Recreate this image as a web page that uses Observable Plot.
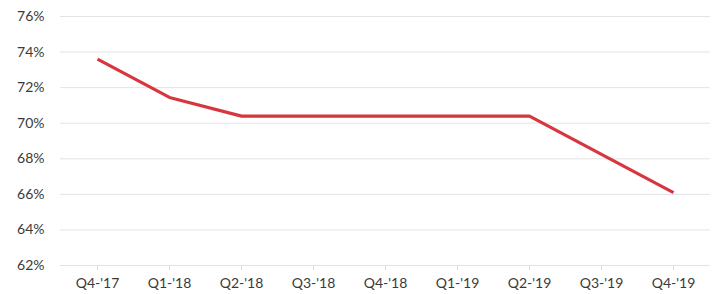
<!DOCTYPE html>
<html>
<head>
<meta charset="utf-8">
<script src="https://cdn.jsdelivr.net/npm/d3@7"></script>
<script src="https://cdn.jsdelivr.net/npm/@observablehq/plot@0.6"></script>
<style>
  html, body { margin: 0; padding: 0; background: #fff; }
  #chart svg { display: block; }
</style>
</head>
<body>
<div id="chart"></div>
<script>
const quarters = ["Q4-'17", "Q1-'18", "Q2-'18", "Q3-'18", "Q4-'18", "Q1-'19", "Q2-'19", "Q3-'19", "Q4-'19"];
const values = [73.6, 71.45, 70.4, 70.4, 70.4, 70.4, 70.4, 68.25, 66.1];
const yTicks = [62, 64, 66, 68, 70, 72, 74, 76];

const data = quarters.map((q, i) => ({q, v: values[i]}));

const chart = Plot.plot({
  width: 715,
  height: 294,
  marginLeft: 60,
  marginRight: 5,
  marginTop: 16,
  marginBottom: 29,
  style: {fontFamily: "Lato, 'Open Sans', sans-serif", fontSize: "14px", color: "#3a3a3a", background: "#fff"},
  x: {type: "point", domain: quarters, padding: 0.5, label: null},
  y: {domain: [62, 76], ticks: yTicks, label: null},
  marks: [
    Plot.gridY(yTicks, {stroke: "#e3e3e3", strokeOpacity: 1, strokeWidth: 1}),
    Plot.axisY(yTicks, {tickSize: 0, tickPadding: 16, tickFormat: d => d + "%", fontSize: 14, fill: "#3a3a3a"}),
    Plot.axisX({tickSize: 5, tickPadding: 8, stroke: "#dcdcdc", fontSize: 14, fill: "#3a3a3a"}),
    Plot.line(data, {x: "q", y: "v", stroke: "#d8363f", strokeWidth: 3.2, strokeLinejoin: "round", strokeLinecap: "butt"})
  ]
});
document.getElementById("chart").append(chart);
</script>
</body>
</html>
